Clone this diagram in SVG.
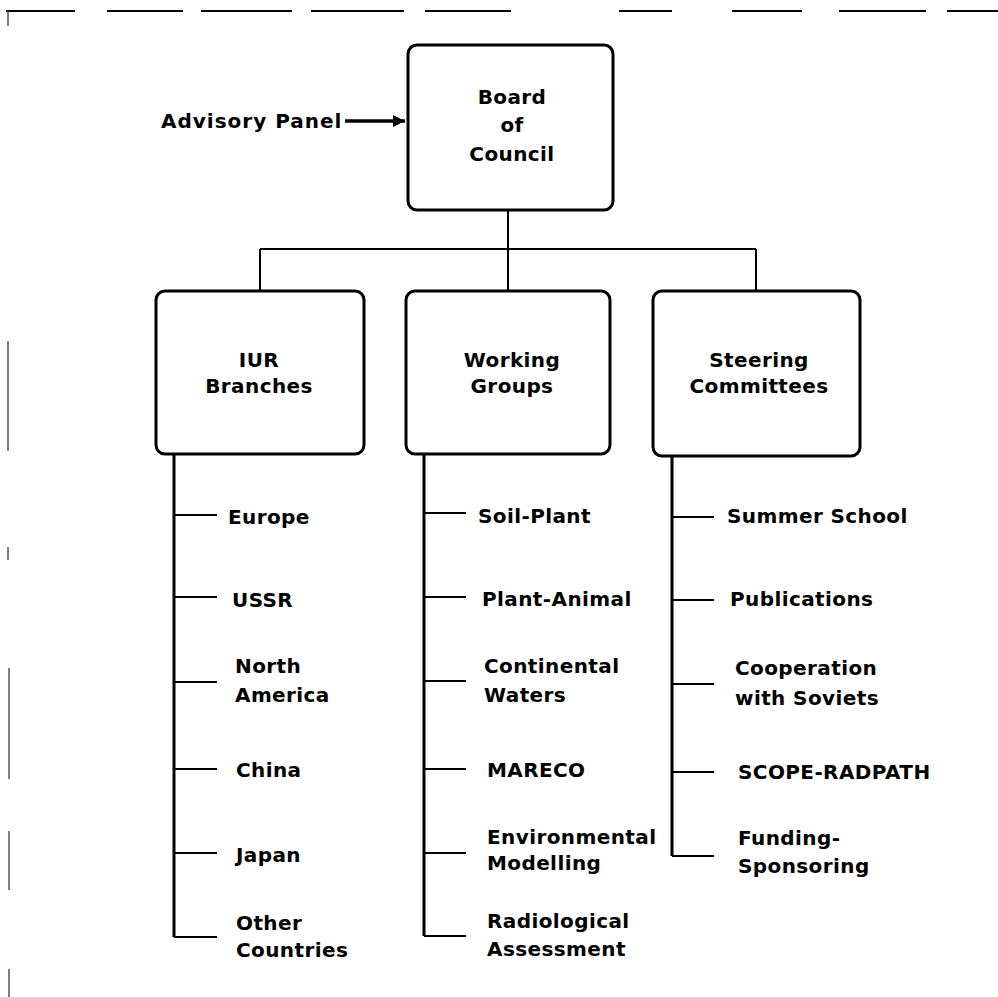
<svg xmlns="http://www.w3.org/2000/svg" width="998" height="997" viewBox="0 0 998 997">
<style>
.box{fill:#fff;stroke:#000;stroke-width:3}
.t{font-family:"DejaVu Sans","Liberation Sans",sans-serif;font-weight:bold;font-size:20px;letter-spacing:0.4px;fill:#000}
.c{text-anchor:middle}
.ln{stroke:#000;stroke-width:2;fill:none}
.vl{stroke:#000;stroke-width:3;fill:none}
.fr{stroke:#000;stroke-width:2;fill:none}
.fl{stroke:#555;stroke-width:1.5;fill:none}
</style>
<defs>
<marker id="ah" viewBox="0 0 10 10" refX="10" refY="5" markerWidth="12" markerHeight="12" markerUnits="userSpaceOnUse" orient="auto">
<path d="M0,0 L10,5 L0,10 z" fill="#000"/>
</marker>
</defs>
<rect width="998" height="997" fill="#fff"/>
<g id="frame">
<path class="fr" d="M6,11H75 M107,11H183 M201,11H292 M311,11H404 M425,11H511 M619,11H672 M732,11H802 M839,11H926 M947,11H998"/>
<path class="fl" d="M8,11V26 M8,341V451 M8,547V560 M9,668V779 M9,831V890 M9,969V997"/>
</g>
<g id="connectors">
<path class="ln" d="M508,210V249 M260,249H756 M260,249V291 M508,249V291 M756,249V291"/>
<path d="M345,121H405" stroke="#000" stroke-width="3.5" marker-end="url(#ah)"/>
<path class="vl" d="M174,454V937"/>
<path class="ln" d="M174,515H217 M174,597H217 M174,682H217 M174,769H217 M174,853H217 M174,937H217"/>
<path class="vl" d="M424,454V936"/>
<path class="ln" d="M424,513H466 M424,597H466 M424,681H466 M424,769H466 M424,853H466 M424,936H466"/>
<path class="vl" d="M672,456V856"/>
<path class="ln" d="M672,517H714 M672,600H714 M672,684H714 M672,772H714 M672,856H714"/>
</g>
<g id="advisory"><text class="t" x="161" y="128" style="letter-spacing:1px">Advisory Panel</text></g>
<g id="board">
<rect class="box" x="408" y="45" width="205" height="165" rx="9"/>
<text class="t c" x="512" y="104">Board</text>
<text class="t c" x="512" y="132">of</text>
<text class="t c" x="512" y="161">Council</text>
</g>
<g id="iur">
<rect class="box" x="156" y="291" width="208" height="163" rx="9"/>
<text class="t c" x="259" y="367">IUR</text>
<text class="t c" x="259" y="393">Branches</text>
</g>
<g id="working">
<rect class="box" x="406" y="291" width="204" height="163" rx="9"/>
<text class="t c" x="512" y="367">Working</text>
<text class="t c" x="512" y="393">Groups</text>
</g>
<g id="steering">
<rect class="box" x="653" y="291" width="207" height="165" rx="9"/>
<text class="t c" x="759" y="367">Steering</text>
<text class="t c" x="759" y="393">Committees</text>
</g>
<g id="europe"><text class="t" x="228" y="524">Europe</text></g>
<g id="ussr"><text class="t" x="232" y="607">USSR</text></g>
<g id="north-america"><text class="t" x="235" y="673">North</text><text class="t" x="235" y="702">America</text></g>
<g id="china"><text class="t" x="236" y="777">China</text></g>
<g id="japan"><text class="t" x="236" y="862">Japan</text></g>
<g id="other"><text class="t" x="236" y="930">Other</text><text class="t" x="236" y="957">Countries</text></g>
<g id="soil-plant"><text class="t" x="478" y="523">Soil-Plant</text></g>
<g id="plant-animal"><text class="t" x="482" y="606">Plant-Animal</text></g>
<g id="continental"><text class="t" x="484" y="673">Continental</text><text class="t" x="484" y="702">Waters</text></g>
<g id="mareco"><text class="t" x="487" y="777">MARECO</text></g>
<g id="env"><text class="t" x="487" y="844">Environmental</text><text class="t" x="487" y="870">Modelling</text></g>
<g id="radio"><text class="t" x="487" y="928">Radiological</text><text class="t" x="487" y="956">Assessment</text></g>
<g id="summer"><text class="t" x="727" y="523">Summer School</text></g>
<g id="pubs"><text class="t" x="730" y="606">Publications</text></g>
<g id="coop"><text class="t" x="735" y="675">Cooperation</text><text class="t" x="735" y="705">with Soviets</text></g>
<g id="scope"><text class="t" x="738" y="779">SCOPE-RADPATH</text></g>
<g id="funding"><text class="t" x="738" y="845">Funding-</text><text class="t" x="738" y="873">Sponsoring</text></g>
</svg>
